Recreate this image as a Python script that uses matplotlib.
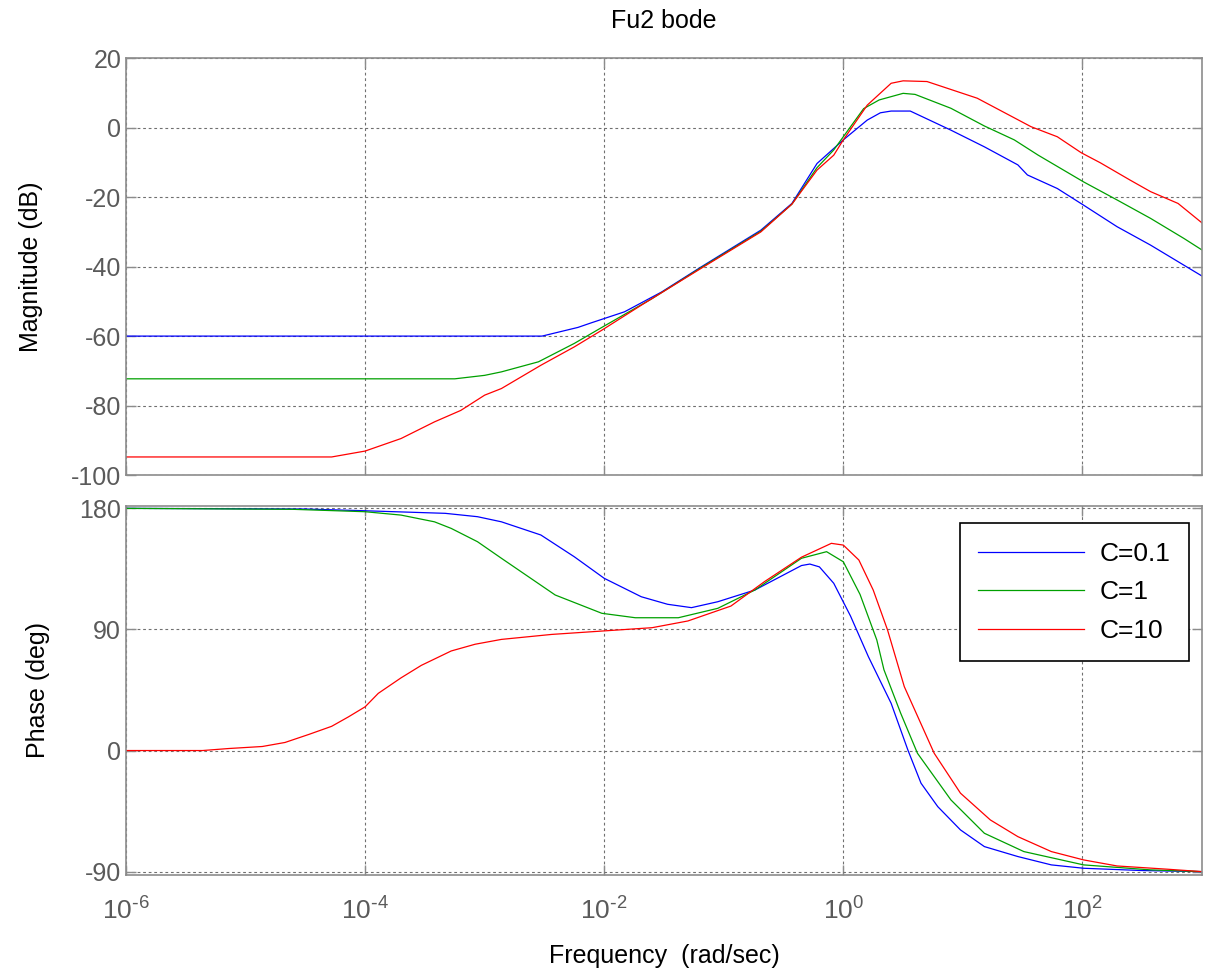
import numpy as np
import matplotlib
matplotlib.use('Agg')
import matplotlib.pyplot as plt
from matplotlib.ticker import FixedLocator, NullFormatter, FuncFormatter

plt.rcParams.update({
    'font.family': ['Liberation Sans', 'DejaVu Sans'],
    'mathtext.default': 'regular',
    'axes.unicode_minus': False,
})

# ── Bode data: log10(w) -> value ───────────────────────────────────────────
mag_c01_lw = [-6, -2.52, -2.22, -2.11, -1.83, -1.52, -1.19, -0.69, -0.43, -0.22,
              0.0, 0.2, 0.31, 0.4, 0.56, 0.9, 1.18, 1.46, 1.54, 1.79, 2.01,
              2.29, 2.57, 2.85, 3.0]
mag_c01_db = [-60, -60, -57.5, -56.2, -53.0, -47.3, -40.1, -29.5, -21.8, -10.3,
              -3.5, 2.2, 4.3, 4.8, 4.8, -0.7, -5.5, -10.7, -13.6, -17.5, -22.3,
              -28.5, -33.8, -39.6, -42.7]

mag_c1_lw = [-6, -3.25, -3.0, -2.86, -2.55, -2.25, -2.02, -1.6, -1.19, -0.69,
             -0.43, -0.22, -0.08, 0.17, 0.3, 0.5, 0.6, 0.9, 1.18, 1.43, 1.63,
             2.01, 2.29, 2.57, 2.85, 3.0]
mag_c1_db = [-72.3, -72.3, -71.3, -70.3, -67.4, -62.1, -57.5, -49.2, -40.3, -29.8,
             -22.0, -11.5, -6.4, 5.5, 8.0, 9.9, 9.6, 5.6, 0.5, -3.5, -7.9,
             -15.6, -20.8, -26.1, -31.9, -35.2]

mag_c10_lw = [-6, -4.28, -4.0, -3.7, -3.42, -3.2, -3.0, -2.86, -2.53, -2.25,
              -2.02, -1.69, -1.19, -0.69, -0.43, -0.22, -0.08, 0.0, 0.2, 0.4,
              0.5, 0.7, 1.12, 1.57, 1.79, 1.99, 2.15, 2.4, 2.57, 2.8, 3.0]
mag_c10_db = [-94.8, -94.8, -93.1, -89.5, -84.7, -81.4, -77.0, -75.1, -68.4, -63.1,
              -58.3, -51.1, -40.5, -30.0, -22.0, -12.2, -7.9, -3.5, 6.5, 12.8,
              13.5, 13.3, 8.5, 0.3, -2.6, -7.2, -10.1, -15.1, -18.4, -21.8, -27.4]

ph_c01_lw = [-6, -4.5, -4.0, -3.33, -3.06, -2.86, -2.53, -2.25, -2.0, -1.69,
             -1.47, -1.27, -1.05, -0.74, -0.35, -0.28, -0.2, -0.08, 0.06, 0.21,
             0.4, 0.54, 0.65, 0.79, 0.98, 1.18, 1.46, 1.74, 2.01, 2.5, 3.0]
ph_c01_deg = [180, 179.5, 178.2, 176.3, 173.8, 170, 160.2, 144, 128, 114.3,
              108.7, 106.2, 110.6, 119.3, 137.5, 138.6, 136.5, 124.3, 100, 69.7,
              35.1, 0.4, -24.3, -41.7, -59, -71.4, -78.8, -85, -87.5, -89.2, -90]

ph_c1_lw = [-6, -4.61, -4.0, -3.7, -3.42, -3.28, -3.06, -2.86, -2.41, -2.02,
            -1.74, -1.38, -1.05, -0.74, -0.35, -0.14, 0.0, 0.14, 0.28, 0.34,
            0.48, 0.62, 0.9, 1.18, 1.51, 2.01, 2.57, 3.0]
ph_c1_deg = [180, 179.3, 177.5, 175, 170, 165.1, 155.2, 142.9, 115.6, 102,
             98.7, 98.7, 105.7, 119.3, 142.9, 147.8, 140.3, 116, 82.2, 60,
             27.7, -2, -36.7, -61.5, -75.1, -85, -88.7, -90]

ph_c10_lw = [-6, -5.36, -5.14, -4.86, -4.67, -4.47, -4.28, -4.14, -4.0, -3.89,
             -3.7, -3.53, -3.28, -3.08, -2.86, -2.44, -2.02, -1.6, -1.3, -0.94,
             -0.66, -0.35, -0.1, 0.0, 0.13, 0.25, 0.37, 0.51, 0.76, 0.98, 1.23,
             1.46, 1.74, 2.01, 2.29, 2.71, 3.0]
ph_c10_deg = [0, 0, 1.5, 3, 6, 12, 18, 25, 32.5, 42.5,
              54, 63.3, 74, 79, 82.6, 86.3, 88.8, 91.3, 96.3, 107.4,
              125.5, 143.7, 154, 152.7, 141.6, 119.3, 89.6, 47.5, -2, -31.7, -51.6,
              -64, -75.1, -81.3, -85.8, -88.2, -90]

labels = ['C=0.1', 'C=1', 'C=10']
colors = ['#0000ff', '#00a000', '#ff0000']

mag_sets = [(mag_c01_lw, mag_c01_db), (mag_c1_lw, mag_c1_db), (mag_c10_lw, mag_c10_db)]
ph_sets = [(ph_c01_lw, ph_c01_deg), (ph_c1_lw, ph_c1_deg), (ph_c10_lw, ph_c10_deg)]

TICK_GRAY = '#5a5a5a'
SPINE_GRAY = '#8c8c8c'
GRID_KW = dict(color='#707070', linestyle=(0, (2.5, 2.5)), linewidth=0.8)


def decade_label(x, pos):
    # MATLAB-style 10^n with a plain hyphen in the exponent
    n = int(round(np.log10(x)))
    exp = r'\text{-}%d' % abs(n) if n < 0 else '%d' % n
    return r'$10^{%s}$' % exp


fig = plt.figure(figsize=(12.13, 9.76), dpi=100)
ax_m = fig.add_axes([0.1039, 0.5133, 0.8870, 0.4270])
ax_p = fig.add_axes([0.1039, 0.1035, 0.8870, 0.3784])


def style(ax):
    ax.set_xscale('log')
    ax.set_xlim(1e-6, 1e3)
    ax.xaxis.set_major_locator(FixedLocator([1e-6, 1e-4, 1e-2, 1e0, 1e2]))
    ax.xaxis.set_minor_locator(FixedLocator([]))
    ax.grid(True, **GRID_KW)
    for s in ax.spines.values():
        s.set_color(SPINE_GRAY)
        s.set_linewidth(1.2)
    ax.tick_params(direction='in', length=7, width=1.0, color=SPINE_GRAY,
                   labelcolor=TICK_GRAY, labelsize=18, top=True, right=True)


for (lw_, v), c, lab in zip(mag_sets, colors, labels):
    ax_m.plot(10.0 ** np.array(lw_), v, color=c, lw=0.9, label=lab)
style(ax_m)
ax_m.set_ylim(-100, 20)
ax_m.set_yticks([-100, -80, -60, -40, -20, 0, 20])
ax_m.xaxis.set_major_formatter(NullFormatter())
ax_m.set_ylabel('Magnitude (dB)', fontsize=18, labelpad=20)
ax_m.set_title('Fu2 bode', fontsize=18, pad=22)

for (lw_, v), c, lab in zip(ph_sets, colors, labels):
    ax_p.plot(10.0 ** np.array(lw_), v, color=c, lw=0.9, label=lab)
style(ax_p)
ax_p.set_ylim(-92.5, 182)
ax_p.set_yticks([-90, 0, 90, 180])
ax_p.xaxis.set_major_formatter(FuncFormatter(decade_label))
ax_p.tick_params(axis='x', pad=16, labelsize=19)
ax_p.set_ylabel('Phase (deg)', fontsize=18, labelpad=21)
ax_p.set_xlabel('Frequency  (rad/sec)', fontsize=18, labelpad=14)

leg = ax_p.legend(loc='upper right', bbox_to_anchor=(0.988, 0.952),
                  borderaxespad=0, fontsize=19, handlelength=4.0,
                  labelspacing=0.55, fancybox=False, framealpha=1,
                  edgecolor='black', borderpad=0.7, handletextpad=0.6)
leg.get_frame().set_linewidth(1.2)

fig.savefig('out.png', dpi=100, facecolor='white')
